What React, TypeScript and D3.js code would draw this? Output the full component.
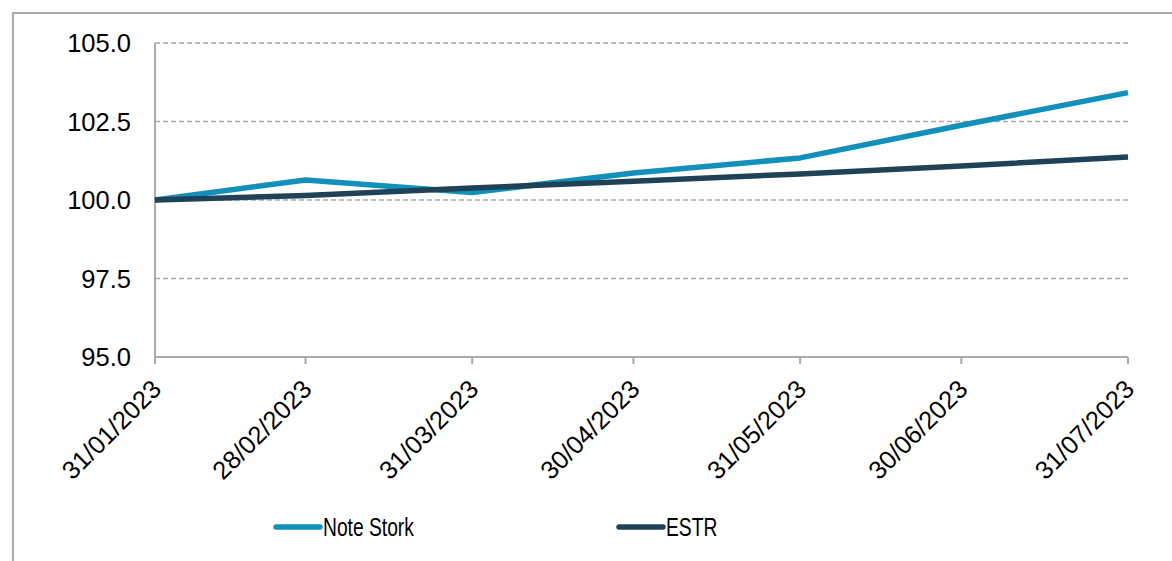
import React from 'react';
import * as d3 from 'd3';

const dateLabels = ['31/01/2023', '28/02/2023', '31/03/2023', '30/04/2023', '31/05/2023', '30/06/2023', '31/07/2023'];
const noteStork = [100.0, 100.64, 100.24, 100.86, 101.34, 102.38, 103.42];
const estr = [100.0, 100.14, 100.38, 100.6, 100.83, 101.08, 101.37];
const yTicks = [95, 97.5, 100, 102.5, 105];

const seriesNames = ['Note Stork', 'ESTR'];
const seriesColors = ['#1190bb', '#1f4257'];

const parse = d3.timeParse('%d/%m/%Y');

const App: React.FC = () => {
  const width = 1172;
  const height = 561;
  const margin = { top: 43, right: 44, bottom: 204, left: 155 };
  const innerW = width - margin.left - margin.right;
  const innerH = height - margin.top - margin.bottom;

  const dates = dateLabels.map(d => parse(d) as Date);

  const x = d3.scaleTime()
    .domain(d3.extent(dates) as [Date, Date])
    .range([0, innerW]);

  const y = d3.scaleLinear()
    .domain([95, 105])
    .range([innerH, 0]);

  const line = d3.line<number>()
    .x((_, i) => x(dates[i]))
    .y(d => y(d));

  const series = [noteStork, estr];
  const axisColor = '#a7abaf';
  const font = "Arial, 'Liberation Sans', sans-serif";

  return (
    <div style={{ position: 'absolute', left: 0, top: 0 }}>
      <svg width={width} height={height} style={{ display: 'block', background: '#fff' }}>
        {/* outer frame */}
        <rect x={13} y={13} width={width + 20} height={height + 20} fill="none" stroke={axisColor} strokeWidth={2} />

        <g transform={`translate(${margin.left},${margin.top})`}>
          {/* grid */}
          {yTicks.filter(t => t !== 95).map(t => (
            <line key={t} x1={0} x2={innerW} y1={y(t)} y2={y(t)}
              stroke="#a7abaf" strokeWidth={1.5} strokeDasharray="5,3" />
          ))}

          {/* y labels */}
          {yTicks.map(t => (
            <text key={t} x={-24} y={y(t)} dy="0.36em" textAnchor="end"
              fontFamily={font} fontSize={25.5} fill="#000">
              {d3.format('.1f')(t)}
            </text>
          ))}

          {/* axes */}
          <line x1={0} x2={0} y1={0} y2={innerH + 7} stroke={axisColor} strokeWidth={2} />
          <line x1={0} x2={innerW} y1={innerH} y2={innerH} stroke={axisColor} strokeWidth={2} />
          {dates.map((d, i) => (
            <g key={i} transform={`translate(${x(d)},${innerH})`}>
              <line y1={0} y2={7} stroke={axisColor} strokeWidth={2} />
              <text transform="translate(-5,21) rotate(-45)" textAnchor="end" dy="0.71em"
                fontFamily={font} fontSize={25.5} fill="#000">
                {dateLabels[i]}
              </text>
            </g>
          ))}

          {/* series lines */}
          {series.map((s, i) => (
            <path key={i} d={line(s) || ''} fill="none" stroke={seriesColors[i]}
              strokeWidth={5.5} strokeLinejoin="round" />
          ))}
        </g>

        {/* legend */}
        {seriesNames.map((name, i) => {
          const lx = i === 0 ? 276 : 619;
          return (
            <g key={name} transform={`translate(${lx},527)`}>
              <line x1={0} x2={44} y1={0} y2={0} stroke={seriesColors[i]} strokeWidth={5.5} strokeLinecap="round" />
              <text transform="translate(47,0) scale(0.77,1)" dy="0.36em" fontFamily={font}
                fontSize={25} fill="#000">
                {name}
              </text>
            </g>
          );
        })}
      </svg>
    </div>
  );
};

export default App;
